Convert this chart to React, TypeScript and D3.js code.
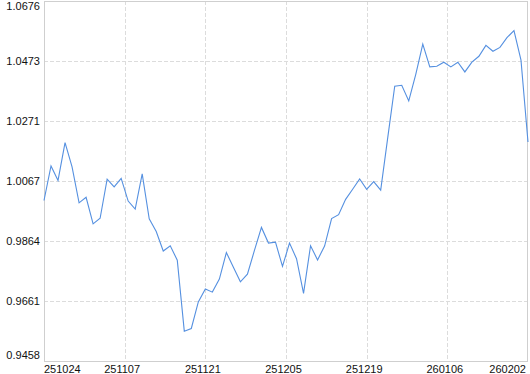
import React from "react";
import * as d3 from "d3";

const values: number[] = [
  1.0001, 1.0118, 1.0069, 1.0197, 1.0115, 0.9993, 1.0012, 0.9922, 0.9941, 1.0073,
  1.0047, 1.0076, 0.9999, 0.9972, 1.0091, 0.9939, 0.9896, 0.983, 0.9848, 0.9799,
  0.9559, 0.9568, 0.9658, 0.9702, 0.9691, 0.9735, 0.9825, 0.9775, 0.9726, 0.9752,
  0.9832, 0.991, 0.9857, 0.986, 0.9778, 0.9857, 0.9804, 0.9687, 0.9848, 0.98,
  0.9847, 0.994, 0.9953, 1.0005, 1.0039, 1.0074, 1.0039, 1.0065, 1.0036, 1.0213,
  1.0388, 1.0391, 1.0338, 1.0428, 1.053, 1.0453, 1.0455, 1.0469, 1.0453, 1.0469,
  1.0436, 1.0469, 1.0489, 1.0526, 1.0506, 1.0519, 1.0552, 1.0576, 1.0476, 1.0199,
];

const yTickLabels: string[] = ["0.9458", "0.9661", "0.9864", "1.0067", "1.0271", "1.0473", "1.0676"];
const xTickLabels: string[] = ["251024", "251107", "251121", "251205", "251219", "260106", "260202"];

const W = 530;
const H = 374;
const left = 44;
const right = 528;
const top = 1;
const bottom = 361;

export default function App() {
  const n = values.length;
  const x = d3.scaleLinear().domain([0, n - 1]).range([left, right]);
  const yMin = parseFloat(yTickLabels[0]);
  const yMax = parseFloat(yTickLabels[yTickLabels.length - 1]);
  const y = d3.scaleLinear().domain([yMin, yMax]).range([bottom, top]);
  const divs = xTickLabels.length - 1;
  const xTick = d3.scaleLinear().domain([0, divs]).range([0, n - 1]);
  const line = d3
    .line<number>()
    .x((_, i) => x(i))
    .y((d) => y(d));
  const font = "Tahoma, 'Liberation Sans', Arial, sans-serif";

  return (
    <svg
      width={W}
      height={H}
      style={{ position: "absolute", left: 0, top: 0, background: "#fff" }}
    >
      <rect x={0} y={0} width={W} height={H} fill="#fff" />
      {yTickLabels.slice(1, -1).map((t, i) => (
        <line
          key={"hy" + i}
          x1={left}
          x2={right}
          y1={Math.round(y(parseFloat(t))) + 0.5}
          y2={Math.round(y(parseFloat(t))) + 0.5}
          stroke="#dcdcdc"
          strokeDasharray="4,2"
        />
      ))}
      {xTickLabels.slice(1, -1).map((t, i) => {
        const px = Math.round(x(xTick(i + 1))) + 0.5;
        return (
          <line
            key={"vx" + i}
            x1={px}
            x2={px}
            y1={top}
            y2={bottom}
            stroke="#dcdcdc"
            strokeDasharray="4,2"
          />
        );
      })}
      <rect
        x={left + 0.5}
        y={top + 0.5}
        width={right - left - 1}
        height={bottom - top}
        fill="none"
        stroke="#cfcfcf"
      />
      <path d={line(values) || ""} fill="none" stroke="#5590e0" strokeWidth={1.1} />
      {yTickLabels.map((t, i) => {
        let py = y(parseFloat(t)) + 4;
        if (i === 0) py = bottom - 2;
        if (i === yTickLabels.length - 1) py = top + 9;
        return (
          <text
            key={"yl" + i}
            x={40}
            y={py}
            textAnchor="end"
            fontFamily={font}
            fontSize={11}
            fill="#111"
          >
            {t}
          </text>
        );
      })}
      {xTickLabels.map((t, i) => {
        let px = x(xTick(i)) - 2.5;
        let anchor: "start" | "middle" | "end" = "middle";
        if (i === 0) {
          px = left;
          anchor = "start";
        } else if (i === xTickLabels.length - 1) {
          px = right - 2;
          anchor = "end";
        }
        return (
          <text
            key={"xl" + i}
            x={px}
            y={373}
            textAnchor={anchor}
            fontFamily={font}
            fontSize={11}
            fill="#111"
          >
            {t}
          </text>
        );
      })}
    </svg>
  );
}
